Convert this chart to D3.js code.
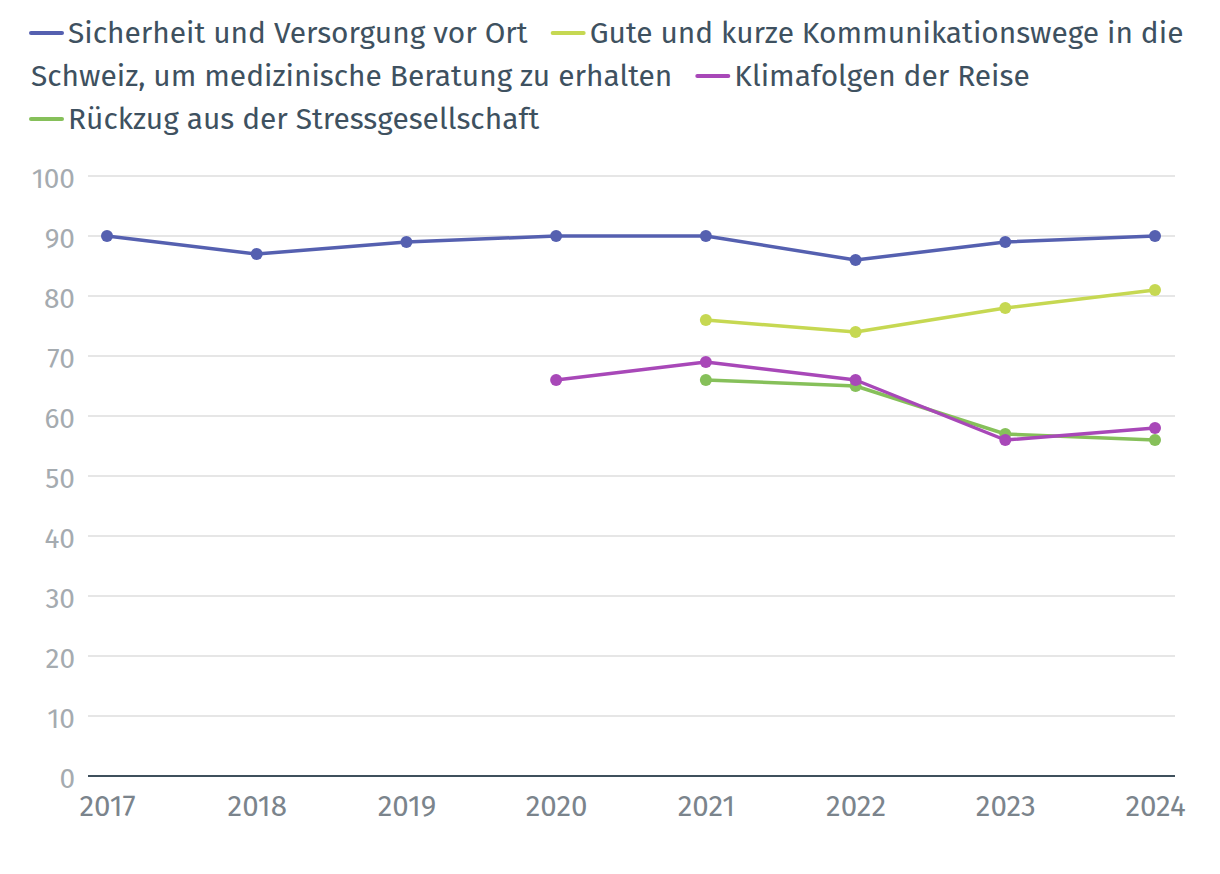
<!DOCTYPE html>
<html><head><meta charset="utf-8">
<script src="https://cdn.jsdelivr.net/npm/d3@7"></script>
<style>
html,body{margin:0;padding:0;background:#fff;}
svg{display:block;font-family:"Fira Sans","Noto Sans","Open Sans",sans-serif;}
</style></head>
<body><svg id="chart" width="1220" height="874"></svg>
<script>
const years = [2017, 2018, 2019, 2020, 2021, 2022, 2023, 2024];
const yTicks = [0, 10, 20, 30, 40, 50, 60, 70, 80, 90, 100];
const seriesNames = [
  "Sicherheit und Versorgung vor Ort",
  "Gute und kurze Kommunikationswege in die Schweiz, um medizinische Beratung zu erhalten",
  "Klimafolgen der Reise",
  "Rückzug aus der Stressgesellschaft"
];
const sicherheit = [90, 87, 89, 90, 90, 86, 89, 90];
const kommunikation = [null, null, null, null, 76, 74, 78, 81];
const klima = [null, null, null, 66, 69, 66, 56, 58];
const rueckzug = [null, null, null, null, 66, 65, 57, 56];
const colors = ["#5560b0", "#c6d852", "#a848b8", "#86c05a"];

const svg = d3.select("#chart");
const x = d3.scalePoint().domain(years).range([107, 1155]);
const y = d3.scaleLinear().domain([0, 100]).range([776, 176]);

// grid
svg.append("g").selectAll("line").data(yTicks.filter(d => d > 0)).join("line")
  .attr("x1", 88).attr("x2", 1175)
  .attr("y1", d => y(d)).attr("y2", d => y(d))
  .attr("stroke", "#e6e6e6").attr("stroke-width", 2);

// y axis labels
const yAxis = svg.append("g").attr("transform", "translate(75,0)")
  .call(d3.axisLeft(y).tickValues(yTicks).tickSize(0).tickPadding(0));
yAxis.attr("font-family", null).attr("font-size", null);
yAxis.select(".domain").remove();
yAxis.selectAll("text").attr("fill", "#a5abb0").attr("font-size", 28)
  .attr("dy", 11);

// x axis
const xAxis = svg.append("g").attr("transform", "translate(0,776)")
  .call(d3.axisBottom(x).tickSize(0).tickPadding(0).tickFormat(d3.format("d")));
xAxis.attr("font-family", null).attr("font-size", null);
xAxis.select(".domain").remove();
xAxis.selectAll("text").attr("fill", "#7b848c").attr("font-size", 29.5)
  .attr("y", 40).attr("dy", 0);
svg.append("line").attr("x1", 88).attr("x2", 1175).attr("y1", 776).attr("y2", 776)
  .attr("stroke", "#3f505c").attr("stroke-width", 2);

// series
const seriesData = [sicherheit, kommunikation, rueckzug, klima];
const seriesColors = [colors[0], colors[1], colors[3], colors[2]];
const line = d3.line().defined(d => d.v != null).x(d => x(d.year)).y(d => y(d.v));
seriesData.forEach((vals, i) => {
  const pts = years.map((yr, j) => ({year: yr, v: vals[j]}));
  const g = svg.append("g");
  g.append("path").datum(pts).attr("d", line).attr("fill", "none")
    .attr("stroke", seriesColors[i]).attr("stroke-width", 3.5)
    .attr("stroke-linejoin", "round");
  g.selectAll("circle").data(pts.filter(d => d.v != null)).join("circle")
    .attr("cx", d => x(d.year)).attr("cy", d => y(d.v)).attr("r", 6)
    .attr("fill", seriesColors[i]);
});

// legend (explicit line layout as in reference)
const legend = svg.append("g").attr("fill", "#3e5160");
const probe = legend.append("text").attr("font-size", 27).text(seriesNames[0]);
const fs = 27 * 460 / probe.node().getComputedTextLength();
probe.remove();
legend.attr("font-size", fs);
const lines = [
  [{sym: 0}, {text: "Sicherheit und Versorgung vor Ort"}, {gap: 25}, {sym: 1}, {text: "Gute und kurze Kommunikationswege in die"}],
  [{text: "Schweiz, um medizinische Beratung zu erhalten"}, {gap: 25}, {sym: 2}, {text: "Klimafolgen der Reise"}],
  [{sym: 3}, {text: "Rückzug aus der Stressgesellschaft"}]
];
const lineY = [33, 76, 119];
lines.forEach((items, li) => {
  let cx = 31;
  items.forEach(it => {
    if (it.gap) { cx += it.gap; }
    else if (it.sym != null) {
      legend.append("line").attr("x1", cx).attr("x2", cx + 31)
        .attr("y1", lineY[li]).attr("y2", lineY[li])
        .attr("stroke", colors[it.sym]).attr("stroke-width", 4).attr("stroke-linecap", "round");
      cx += 37;
    } else {
      const t = legend.append("text").attr("x", cx).attr("y", lineY[li]).attr("dy", "0.35em").text(it.text);
      cx += t.node().getComputedTextLength();
    }
  });
});
</script></body></html>
